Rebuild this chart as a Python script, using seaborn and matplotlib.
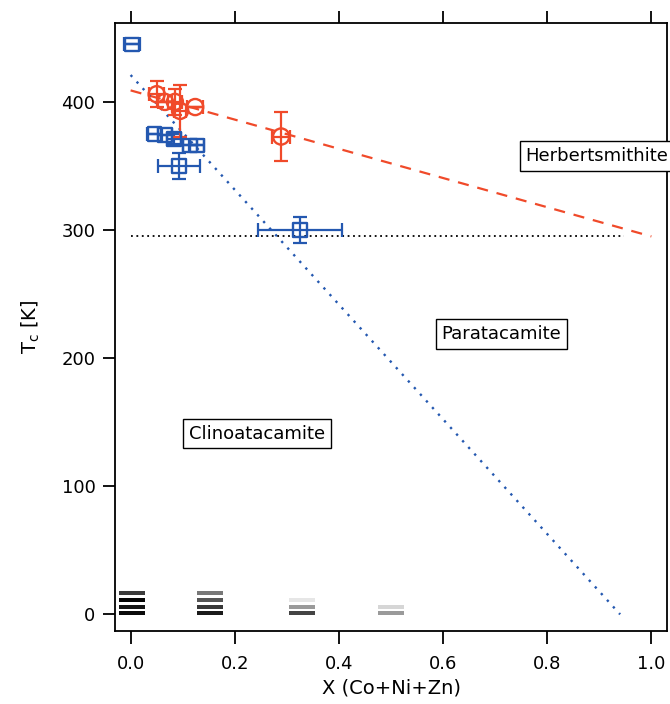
import matplotlib
matplotlib.use("Agg")
import matplotlib.pyplot as plt
import seaborn as sns
import pandas as pd

# ---------------- data ----------------
blue_x = [0.003, 0.046, 0.066, 0.083, 0.114, 0.127, 0.093, 0.325]
blue_y = [445, 375, 374, 371, 366, 366, 350, 300]
blue_xerr = [0.015, 0.014, 0.014, 0.014, 0.014, 0.014, 0.04, 0.08]
blue_yerr = [0, 0, 0, 4, 0, 0, 10, 10]

red_x = [0.050, 0.066, 0.085, 0.095, 0.124, 0.289]
red_y = [406, 400, 400, 393, 396, 373]
red_xerr = [0.015, 0.013, 0.013, 0.012, 0.015, 0.017]
red_yerr = [10, 0, 10, 20, 0, 19]

red_fit_x = [0.0, 1.0]
red_fit_y = [409, 295]
blue_fit_x = [0.0, 0.94]
blue_fit_y = [421, 0]
room_x = [0.0, 0.948]
room_y = [295, 295]

bar_x = [0.002, 0.002, 0.002, 0.002,
         0.152, 0.152, 0.152, 0.152,
         0.330, 0.330, 0.330,
         0.500, 0.500]
bar_y = [1, 6, 11, 16.5,
         1, 6, 11, 16.5,
         1, 6, 11,
         1, 6]
bar_colors = ["#0a0a0a", "#151515", "#050505", "#3c3c3c",
              "#1a1a1a", "#383838", "#555555", "#787878",
              "#444444", "#9a9a9a", "#e6e6e6",
              "#9a9a9a", "#d6d6d6"]

labels = ["Herbertsmithite", "Paratacamite", "Clinoatacamite"]
label_x = [0.758, 0.712, 0.243]
label_y = [358, 219, 141]
label_ha = ["left", "center", "center"]

x_ticks = [0.0, 0.2, 0.4, 0.6, 0.8, 1.0]
y_ticks = [0, 100, 200, 300, 400]

# ---------------- style ----------------
sns.set_style("ticks")
plt.rcParams["font.family"] = ["DejaVu Sans"]
plt.rcParams["mathtext.default"] = "regular"
plt.rcParams["text.color"] = "black"
plt.rcParams["axes.labelcolor"] = "black"

BLUE = "#2458b0"
RED = "#f04a2a"

fig = plt.figure(figsize=(6.7, 7.04), dpi=100)
ax = fig.add_axes([115 / 670, 1 - 631 / 704, (667 - 115) / 670, (631 - 22.5) / 704])

# bottom composition bars
ax.bar(bar_x, [3.3] * len(bar_x), bottom=[b - 1.65 for b in bar_y], width=0.05,
       color=bar_colors, edgecolor="none", zorder=2)

# fit / reference lines
sns.lineplot(x=red_fit_x, y=red_fit_y, ax=ax, color=RED, lw=1.6,
             linestyle=(0, (5, 4)), zorder=3)
sns.lineplot(x=blue_fit_x, y=blue_fit_y, ax=ax, color=BLUE, lw=1.7,
             linestyle=(0, (1, 2.8)), zorder=3)
sns.lineplot(x=room_x, y=room_y, ax=ax, color="black", lw=1.3,
             linestyle=(0, (1, 2)), zorder=3)

# error bars
ax.errorbar(blue_x, blue_y, xerr=blue_xerr, yerr=blue_yerr, fmt="none",
            ecolor=BLUE, elinewidth=1.6, capsize=5, capthick=1.6, zorder=4)
ax.errorbar(red_x, red_y, xerr=red_xerr, yerr=red_yerr, fmt="none",
            ecolor=RED, elinewidth=1.6, capsize=5, capthick=1.6, zorder=4)

# markers
blue_df = pd.DataFrame({"x": blue_x, "y": blue_y})
red_df = pd.DataFrame({"x": red_x, "y": red_y})
sns.scatterplot(data=blue_df, x="x", y="y", ax=ax, marker="s", s=95,
                facecolor="none", edgecolor=BLUE, linewidth=1.7, zorder=5)
sns.scatterplot(data=red_df, x="x", y="y", ax=ax, marker="o", s=135,
                facecolor="none", edgecolor=RED, linewidth=1.7, zorder=5)

# region labels
for t, lx, ly, ha in zip(labels, label_x, label_y, label_ha):
    ax.text(lx, ly, t, ha=ha, va="center", fontsize=13, color="black",
            zorder=6, clip_on=False,
            bbox=dict(boxstyle="square,pad=0.32", fc="white", ec="black", lw=1.0))

# axes
ax.set_xlim(-0.03, 1.03)
ax.set_ylim(-13, 462)
ax.set_xticks(x_ticks)
ax.set_xticklabels([f"{v:.1f}" for v in x_ticks])
ax.set_yticks(y_ticks)
ax.set_xlabel("X (Co+Ni+Zn)", fontsize=14, labelpad=4, color="black")
ax.set_ylabel("T$_{c}$ [K]", fontsize=14, labelpad=14, color="black")
ax.tick_params(axis="both", direction="out", length=9, width=1.3,
               labelsize=13, color="black", labelcolor="black")
ax.tick_params(axis="x", top=True, labeltop=False, pad=8)
ax.tick_params(axis="y", right=False, pad=5)
for s in ax.spines.values():
    s.set_visible(True)
    s.set_linewidth(1.3)
    s.set_color("black")

fig.savefig("out.png", dpi=100, facecolor="white")
